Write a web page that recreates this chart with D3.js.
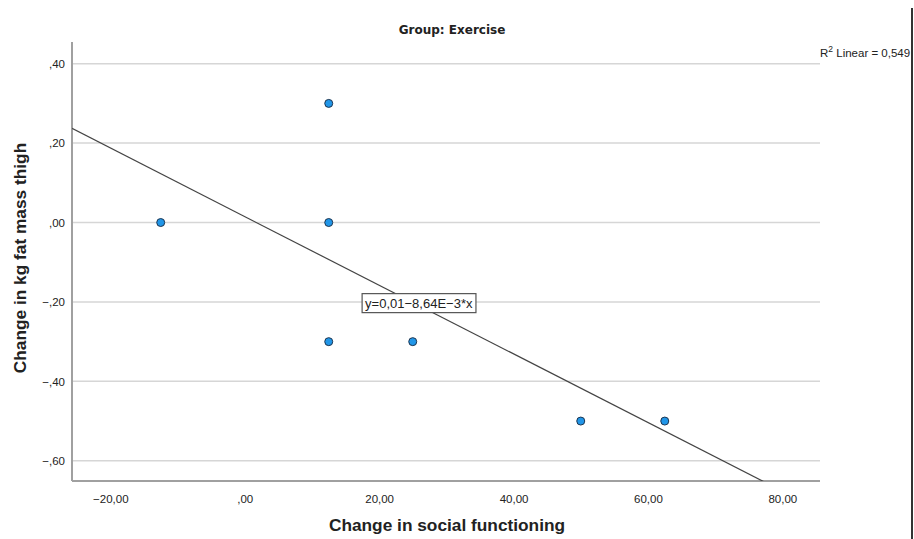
<!DOCTYPE html>
<html>
<head>
<meta charset="utf-8">
<script src="https://cdn.jsdelivr.net/npm/d3@7"></script>
<style>
  html, body { margin: 0; padding: 0; background: #fff; }
  svg { display: block; }
</style>
</head>
<body>
<svg id="chart" width="914" height="539"></svg>
<script>
// Change in social functioning (x) vs change in kg fat mass thigh (y), exercise group
const socialChange = [-12.5, 12.5, 12.5, 12.5, 25, 50, 62.5];
const fatMassChange = [0.0, 0.3, 0.0, -0.3, -0.3, -0.5, -0.5];

const xTicks = [-20, 0, 20, 40, 60, 80];
const yTicks = [0.4, 0.2, 0.0, -0.2, -0.4, -0.6];

const chartTitle = "Group: Exercise";
const xTitle = "Change in social functioning";
const yTitle = "Change in kg fat mass thigh";

const svg = d3.select("#chart");
const plot = { left: 72, right: 820, top: 42, bottom: 481 };

const x = d3.scaleLinear().domain([-25.7, 85.6]).range([plot.left, plot.right]);
const y = d3.scaleLinear().domain([-0.651, 0.4547]).range([plot.bottom, plot.top]);

// Ordinary least-squares fit
const n = socialChange.length;
const mx = d3.mean(socialChange), my = d3.mean(fatMassChange);
let sxy = 0, sxx = 0, syy = 0;
for (let i = 0; i < n; i++) {
  const dx = socialChange[i] - mx, dy = fatMassChange[i] - my;
  sxy += dx * dy; sxx += dx * dx; syy += dy * dy;
}
const slope = sxy / sxx;
const intercept = my - slope * mx;
const r2 = (sxy * sxy) / (sxx * syy);

const comma = s => s.replace(".", ",");
const fmtY = v => {
  if (Math.abs(v) < 1e-9) return ",00";
  const s = d3.format(".2f")(Math.abs(v)).replace(/^0/, "");
  return (v < 0 ? "\u2212" : "") + comma(s);
};
const fmtX = v => {
  if (v === 0) return ",00";
  return (v < 0 ? "\u2212" : "") + comma(d3.format(".2f")(Math.abs(v)));
};

const font = "'Liberation Sans', Arial, sans-serif";

// Horizontal gridlines
svg.append("g").selectAll("line").data(yTicks).join("line")
  .attr("x1", plot.left).attr("x2", plot.right)
  .attr("y1", d => y(d)).attr("y2", d => y(d))
  .attr("stroke", "#d6d6d6").attr("stroke-width", 1.5);

// Axes
const yAxis = d3.axisLeft(y).tickValues(yTicks).tickFormat(fmtY).tickSize(0).tickPadding(7);
const xAxis = d3.axisBottom(x).tickValues(xTicks).tickFormat(fmtX).tickSize(0).tickPadding(14);

const gy = svg.append("g").attr("transform", `translate(${plot.left},0)`).call(yAxis);
const gx = svg.append("g").attr("transform", `translate(0,${plot.bottom})`).call(xAxis);
[gx, gy].forEach(g => {
  g.select(".domain").attr("stroke", "#a0a0a0").attr("stroke-width", 2);
  g.selectAll("text").attr("font-family", font).attr("font-size", 11.5).attr("fill", "#222");
});
gy.select(".domain").attr("d", `M0,${plot.top}V${plot.bottom}`);
gx.select(".domain").attr("d", `M${plot.left},0H${plot.right}`);

// Regression line, clipped to the plot area
svg.append("clipPath").attr("id", "plotClip").append("rect")
  .attr("x", plot.left).attr("y", plot.top)
  .attr("width", plot.right - plot.left).attr("height", plot.bottom - plot.top);

const xd = x.domain();
svg.append("line")
  .attr("clip-path", "url(#plotClip)")
  .attr("x1", x(xd[0])).attr("y1", y(intercept + slope * xd[0]))
  .attr("x2", x(xd[1])).attr("y2", y(intercept + slope * xd[1]))
  .attr("stroke", "#444").attr("stroke-width", 1.2);

// Points
svg.append("g").selectAll("circle").data(socialChange.map((v, i) => [v, fatMassChange[i]])).join("circle")
  .attr("cx", d => x(d[0])).attr("cy", d => y(d[1])).attr("r", 4)
  .attr("fill", "#2196e8").attr("stroke", "#1d3550").attr("stroke-width", 1);

// Equation label
const eqText = `y=${comma(d3.format(".2f")(intercept))}\u2212${comma(d3.format(".2f")(Math.abs(slope) * 1000))}E\u22123*x`;
const eqG = svg.append("g").attr("transform", `translate(${x(25.9)},${y(-0.203)})`);
const eq = eqG.append("text").attr("text-anchor", "middle").attr("dy", "0.35em")
  .attr("font-family", font).attr("font-size", 13).attr("fill", "#222").text(eqText);
const bb = eq.node().getBBox();
eqG.insert("rect", "text")
  .attr("x", bb.x - 3).attr("y", -9.5).attr("width", bb.width + 6).attr("height", 19)
  .attr("fill", "#fff").attr("stroke", "#555").attr("stroke-width", 1.2);

// Title
svg.append("text").attr("x", 452).attr("y", 34).attr("text-anchor", "middle")
  .attr("font-family", "'DejaVu Sans', sans-serif").attr("font-weight", "bold")
  .attr("font-size", 12).attr("fill", "#222").text(chartTitle);

// Axis titles
svg.append("text").attr("x", 447).attr("y", 531).attr("text-anchor", "middle")
  .attr("font-family", font).attr("font-weight", "bold").attr("font-size", 17.3)
  .attr("fill", "#222").text(xTitle);
svg.append("text").attr("transform", "translate(26,258) rotate(-90)").attr("text-anchor", "middle")
  .attr("font-family", font).attr("font-weight", "bold").attr("font-size", 17.3)
  .attr("fill", "#222").text(yTitle);

// R-squared annotation
const r2Text = svg.append("text").attr("x", 820).attr("y", 57)
  .attr("font-family", font).attr("font-size", 11.5).attr("fill", "#222");
r2Text.append("tspan").text("R");
r2Text.append("tspan").attr("dy", -5).attr("font-size", 8.5).text("2");
r2Text.append("tspan").attr("dy", 5).text(" Linear = " + comma(d3.format(".3f")(r2)));

// Right frame edge
svg.append("rect").attr("x", 912).attr("y", 0).attr("width", 2).attr("height", 539).attr("fill", "#fff");
svg.append("line").attr("x1", 912).attr("x2", 912).attr("y1", 8).attr("y2", 539)
  .attr("stroke", "#333").attr("stroke-width", 2);
</script>
</body>
</html>
